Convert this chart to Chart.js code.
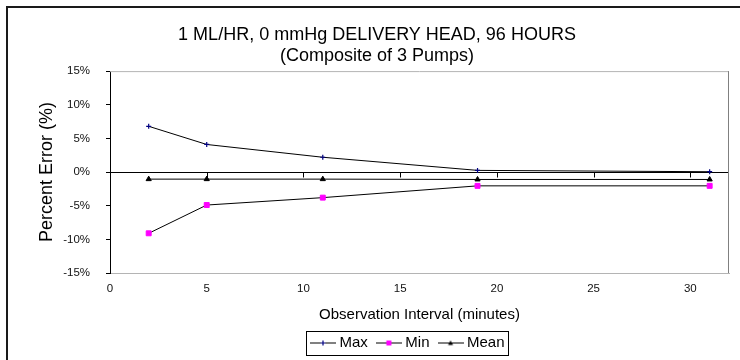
<!DOCTYPE html>
<html lang="en">
<head>
    <meta charset="UTF-8">
    <title>1 ML/HR, 0 mmHg Delivery Head, 96 Hours</title>
    <script src="https://cdn.jsdelivr.net/npm/chart.js"></script>
    <style>
        body { margin: 0; background: #fff; }
        canvas { display: block; }
    </style>
</head>
<body>
    <canvas id="errChart" width="740" height="360"></canvas>

    <script>
        // values
        const titleLines = ['1 ML/HR, 0 mmHg DELIVERY HEAD, 96 HOURS', '(Composite of 3 Pumps)'];
        const xTicks = [0, 5, 10, 15, 20, 25, 30];
        const yTicks = [-15, -10, -5, 0, 5, 10, 15];
        const intervals = [2, 5, 11, 19, 31];
        const maxErr = [6.8, 4.1, 2.2, 0.25, 0.05];
        const minErr = [-9.1, -4.9, -3.8, -2.05, -2.05];
        const meanErr = [-1.05, -1.05, -1.05, -1.1, -1.1];

        Chart.defaults.font.family = 'Arial, "Liberation Sans", sans-serif';
        Chart.defaults.color = '#000';

        const series = [
            { label: 'Max', values: maxErr, style: 'cross', color: '#000080', radius: 2.5 },
            { label: 'Min', values: minErr, style: 'rect', color: '#ff00ff', radius: 3.5 },
            { label: 'Mean', values: meanErr, style: 'triangle', color: '#000000', radius: 3 }
        ];

        // small line + marker picture used as legend symbol
        const makeLegendIcon = (s) => {
            const c = document.createElement('canvas');
            c.width = 26;
            c.height = 10;
            const g = c.getContext('2d');
            g.strokeStyle = '#000';
            g.lineWidth = 1;
            g.beginPath();
            g.moveTo(0, 5.5);
            g.lineTo(26, 5.5);
            g.stroke();
            g.fillStyle = s.color;
            g.strokeStyle = s.color;
            g.beginPath();
            if (s.style === 'cross') {
                g.lineWidth = 1.2;
                g.moveTo(13, 5.5 - s.radius); g.lineTo(13, 5.5 + s.radius);
                g.moveTo(13 - s.radius, 5.5); g.lineTo(13 + s.radius, 5.5);
                g.stroke();
            } else if (s.style === 'rect') {
                g.fillRect(10.5, 3, 5, 5);
            } else {
                g.moveTo(13, 3); g.lineTo(15.5, 7.5); g.lineTo(10.5, 7.5); g.closePath();
                g.fill();
            }
            return c;
        };
        const legendIcons = series.map(makeLegendIcon);

        const frameAndAxes = {
            id: 'frameAndAxes',
            afterLayout(chart) {
                // push the legend under the plot like the original
                const lg = chart.legend;
                const pad = lg.options.labels.padding;
                const startX = (lg.left + pad + lg.right - lg.lineWidths[0]) / 2;
                const shift = 314 - startX;
                lg.left += shift;
                lg.right += shift;
            },
            beforeDraw(chart) {
                const ctx = chart.ctx;
                ctx.save();
                ctx.strokeStyle = '#1a1a1a';
                ctx.lineWidth = 2;
                ctx.beginPath();
                ctx.moveTo(7, 360);
                ctx.lineTo(7, 7);
                ctx.lineTo(740, 7);
                ctx.stroke();
                ctx.restore();
            },
            beforeDatasetsDraw(chart) {
                const ctx = chart.ctx;
                const a = chart.chartArea;
                const x = chart.scales.x;
                const y = chart.scales.y;
                ctx.save();
                ctx.lineWidth = 1;
                ctx.strokeStyle = '#b4b4b4';
                ctx.beginPath();
                ctx.moveTo(a.left, a.top + 0.5);
                ctx.lineTo(a.right, a.top + 0.5);
                ctx.stroke();
                ctx.strokeStyle = '#808080';
                ctx.beginPath();
                ctx.moveTo(a.right - 0.5, a.top);
                ctx.lineTo(a.right - 0.5, a.bottom);
                ctx.stroke();
                // tick marks on the 0% line
                const y0 = Math.round(y.getPixelForValue(0)) + 0.5;
                ctx.strokeStyle = '#000';
                ctx.beginPath();
                xTicks.filter(v => v > 0).forEach(v => {
                    const px = Math.round(x.getPixelForValue(v)) + 0.5;
                    ctx.moveTo(px, y0);
                    ctx.lineTo(px, y0 + 5);
                });
                ctx.stroke();
                ctx.restore();
            },
            afterDraw(chart) {
                const hb = chart.legend.legendHitBoxes;
                if (!hb || !hb.length) return;
                const last = hb[hb.length - 1];
                const left = hb[0].left - 8.5;
                const right = last.left + last.width + 3;
                const top = hb[0].top - 4.5;
                const ctx = chart.ctx;
                ctx.save();
                ctx.strokeStyle = '#000';
                ctx.lineWidth = 1;
                ctx.strokeRect(Math.round(left) + 0.5, Math.round(top) + 0.5, Math.round(right - left), 24);
                ctx.restore();
            }
        };

        const ctx = document.getElementById('errChart').getContext('2d');
        const errChart = new Chart(ctx, {
            type: 'line',
            data: {
                datasets: series.map(s => ({
                    label: s.label,
                    data: intervals.map((x, i) => ({ x: x, y: s.values[i] })),
                    borderColor: '#000',
                    borderWidth: 1,
                    pointStyle: s.style,
                    pointRadius: s.radius,
                    pointBorderWidth: s.style === 'cross' ? 1.2 : 1,
                    pointBorderColor: s.color,
                    pointBackgroundColor: s.color,
                    fill: false,
                    tension: 0
                }))
            },
            options: {
                responsive: false,
                animation: false,
                devicePixelRatio: 1,
                layout: { padding: { left: 25, right: 11, top: 0, bottom: 0 } },
                plugins: {
                    title: {
                        display: true,
                        text: titleLines,
                        color: '#000',
                        font: { size: 18, weight: 'normal', lineHeight: 1.17 },
                        padding: { top: 24.5, bottom: 4.5 }
                    },
                    legend: {
                        position: 'bottom',
                        labels: {
                            usePointStyle: true,
                            pointStyleWidth: 18,
                            padding: 12,
                            color: '#000',
                            font: { size: 15 },
                            generateLabels: (chart) => series.map((s, i) => ({
                                text: s.label,
                                pointStyle: legendIcons[i],
                                fillStyle: s.color,
                                strokeStyle: s.color,
                                lineWidth: 0,
                                hidden: false,
                                datasetIndex: i
                            }))
                        }
                    },
                    tooltip: { enabled: false }
                },
                scales: {
                    x: {
                        type: 'linear',
                        min: 0,
                        max: 32,
                        afterBuildTicks: (scale) => { scale.ticks = xTicks.map(v => ({ value: v })); },
                        afterFit: (scale) => { scale.height = 50; },
                        grid: { display: false, drawTicks: false },
                        border: { color: '#b4b4b4', width: 1 },
                        ticks: { padding: 9, maxRotation: 0, font: { size: 11.5 }, color: '#111' },
                        title: {
                            display: true,
                            text: 'Observation Interval (minutes)',
                            color: '#000',
                            font: { size: 15, lineHeight: 1.1 },
                            padding: { top: 0, bottom: 0 }
                        }
                    },
                    y: {
                        min: -15,
                        max: 15,
                        afterBuildTicks: (scale) => { scale.ticks = yTicks.map(v => ({ value: v })); },
                        afterFit: (scale) => { scale.width = 85; },
                        grid: {
                            color: (c) => (c.tick && c.tick.value === 0 ? '#000' : 'rgba(0,0,0,0)'),
                            tickColor: '#000',
                            tickLength: 4,
                            lineWidth: 1
                        },
                        border: { color: '#000', width: 1 },
                        ticks: {
                            padding: 16,
                            font: { size: 11.5 },
                            color: '#111',
                            callback: (v) => v + '%'
                        },
                        title: {
                            display: true,
                            text: 'Percent Error (%)',
                            color: '#000',
                            font: { size: 18 },
                            padding: { top: 11, bottom: 0 }
                        }
                    }
                }
            },
            plugins: [frameAndAxes]
        });
    </script>
</body>
</html>
